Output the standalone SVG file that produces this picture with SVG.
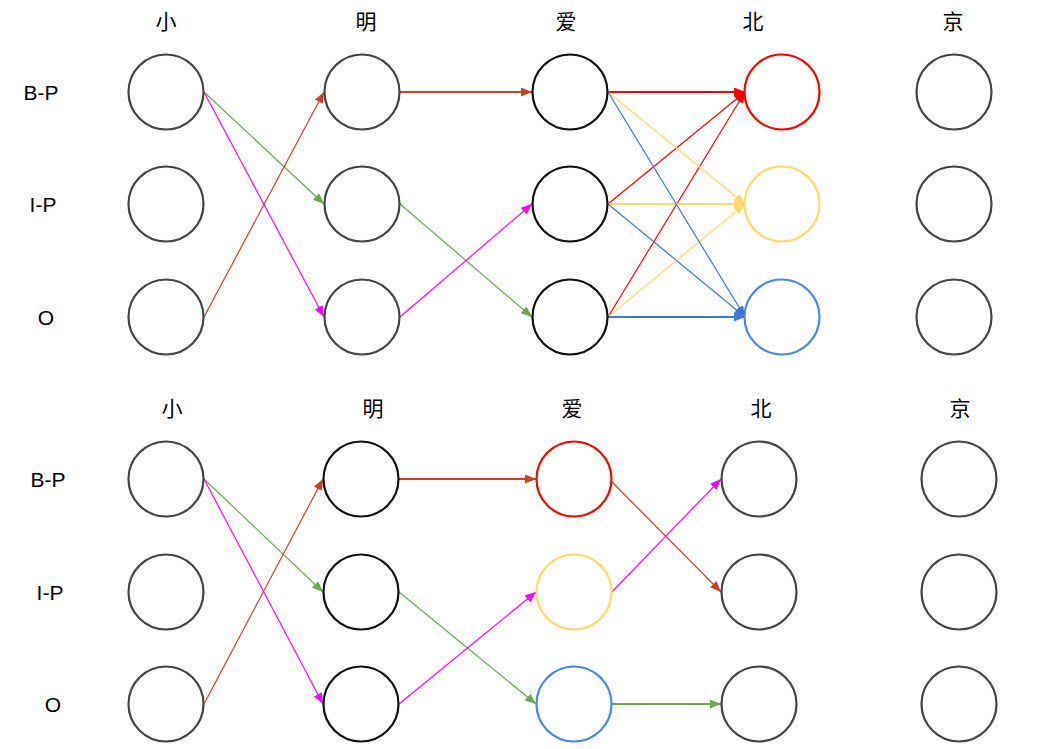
<svg xmlns="http://www.w3.org/2000/svg" width="1053" height="749" viewBox="0 0 1053 749">
<style>
.bg{fill:#ffffff}
.n{fill:#ffffff;stroke-width:2.2}
.g{stroke:#444444}
.k{stroke:#111111}
.r{stroke:#ff0000}
.y{stroke:#ffd966}
.b{stroke:#4a86e8}
.t{font-family:"Noto Sans CJK SC","Noto Sans",sans-serif;font-size:21px;fill:#000000;text-anchor:middle;dominant-baseline:central}
.l{font-family:"Liberation Sans",Arial,sans-serif;font-size:21px;fill:#000000;text-anchor:middle;dominant-baseline:central}
.e{fill:none;stroke-width:1.2}
.th{stroke-width:2}
</style>
<defs>
<marker id="aO" markerUnits="userSpaceOnUse" markerWidth="12" markerHeight="10" refX="11" refY="4.5" orient="auto"><path d="M0,0 L11,4.5 L0,9 z" fill="#cc4125"/></marker>
<marker id="aG" markerUnits="userSpaceOnUse" markerWidth="12" markerHeight="10" refX="11" refY="4.5" orient="auto"><path d="M0,0 L11,4.5 L0,9 z" fill="#6aa84f"/></marker>
<marker id="aM" markerUnits="userSpaceOnUse" markerWidth="12" markerHeight="10" refX="11" refY="4.5" orient="auto"><path d="M0,0 L11,4.5 L0,9 z" fill="#ff00ff"/></marker>
<marker id="aR" markerUnits="userSpaceOnUse" markerWidth="12" markerHeight="10" refX="11" refY="4.5" orient="auto"><path d="M0,0 L11,4.5 L0,9 z" fill="#ff0000"/></marker>
<marker id="aY" markerUnits="userSpaceOnUse" markerWidth="12" markerHeight="10" refX="11" refY="4.5" orient="auto"><path d="M0,0 L11,4.5 L0,9 z" fill="#ffd966"/></marker>
<marker id="aB" markerUnits="userSpaceOnUse" markerWidth="12" markerHeight="10" refX="11" refY="4.5" orient="auto"><path d="M0,0 L11,4.5 L0,9 z" fill="#3c78d8"/></marker>
</defs>
<rect class="bg" x="0" y="0" width="1053" height="749"/>

<g id="labels">
<text class="t" x="166" y="20">小</text>
<text class="t" x="366" y="20">明</text>
<text class="t" x="566" y="20">爱</text>
<text class="t" x="753" y="20">北</text>
<text class="t" x="953" y="20">京</text>
<text class="l" x="41" y="92">B-P</text>
<text class="l" x="43" y="204">I-P</text>
<text class="l" x="46" y="317">O</text>
<text class="t" x="172" y="407">小</text>
<text class="t" x="373" y="407">明</text>
<text class="t" x="572" y="407">爱</text>
<text class="t" x="761" y="407">北</text>
<text class="t" x="960" y="407">京</text>
<text class="l" x="48" y="479">B-P</text>
<text class="l" x="50" y="592">I-P</text>
<text class="l" x="53" y="704">O</text>
</g>

<g id="connectors">
<line class="e" stroke="#6aa84f" x1="204" y1="92" x2="324" y2="204" marker-end="url(#aG)"/>
<line class="e" stroke="#ff00ff" x1="204" y1="92" x2="324" y2="317" marker-end="url(#aM)"/>
<line class="e" stroke="#cc4125" x1="204" y1="317" x2="324" y2="92" marker-end="url(#aO)"/>
<line class="e th" stroke="#cc4125" x1="400" y1="92" x2="532" y2="92" marker-end="url(#aO)"/>
<line class="e" stroke="#6aa84f" x1="400" y1="204" x2="532" y2="317" marker-end="url(#aG)"/>
<line class="e" stroke="#ff00ff" x1="400" y1="317" x2="532" y2="204" marker-end="url(#aM)"/>
<line class="e th" stroke="#ff0000" x1="608" y1="92" x2="745" y2="92" marker-end="url(#aR)"/>
<line class="e" stroke="#ff0000" x1="608" y1="204" x2="745" y2="92" marker-end="url(#aR)"/>
<line class="e" stroke="#ff0000" x1="608" y1="317" x2="745" y2="92" marker-end="url(#aR)"/>
<line class="e" stroke="#ffd966" x1="608" y1="92" x2="745" y2="204" marker-end="url(#aY)"/>
<line class="e th" stroke="#ffd966" x1="608" y1="204" x2="745" y2="204" marker-end="url(#aY)"/>
<line class="e" stroke="#ffd966" x1="608" y1="317" x2="745" y2="204" marker-end="url(#aY)"/>
<line class="e" stroke="#3c78d8" x1="608" y1="92" x2="745" y2="317" marker-end="url(#aB)"/>
<line class="e" stroke="#3c78d8" x1="608" y1="204" x2="745" y2="317" marker-end="url(#aB)"/>
<line class="e th" stroke="#3c78d8" x1="608" y1="317" x2="745" y2="317" marker-end="url(#aB)"/>
<line class="e" stroke="#6aa84f" x1="204" y1="479" x2="323" y2="592" marker-end="url(#aG)"/>
<line class="e" stroke="#ff00ff" x1="204" y1="479" x2="323" y2="704" marker-end="url(#aM)"/>
<line class="e" stroke="#cc4125" x1="204" y1="704" x2="323" y2="479" marker-end="url(#aO)"/>
<line class="e th" stroke="#cc4125" x1="399" y1="479" x2="536" y2="479" marker-end="url(#aO)"/>
<line class="e" stroke="#6aa84f" x1="399" y1="592" x2="536" y2="704" marker-end="url(#aG)"/>
<line class="e" stroke="#ff00ff" x1="399" y1="704" x2="536" y2="592" marker-end="url(#aM)"/>
<line class="e" stroke="#cc4125" x1="612" y1="482" x2="721" y2="592" marker-end="url(#aO)"/>
<line class="e" stroke="#ff00ff" x1="612" y1="592" x2="721" y2="479" marker-end="url(#aM)"/>
<line class="e th" stroke="#6aa84f" x1="612" y1="704" x2="721" y2="704" marker-end="url(#aG)"/>
</g>

<g id="top-xiao-bp"><circle class="n g" cx="166" cy="92" r="37.5"/></g>
<g id="top-xiao-ip"><circle class="n g" cx="166" cy="204" r="37.5"/></g>
<g id="top-xiao-o"><circle class="n g" cx="166" cy="317" r="37.5"/></g>
<g id="top-ming-bp"><circle class="n g" cx="362" cy="92" r="37.5"/></g>
<g id="top-ming-ip"><circle class="n g" cx="362" cy="204" r="37.5"/></g>
<g id="top-ming-o"><circle class="n g" cx="362" cy="317" r="37.5"/></g>
<g id="top-ai-bp"><circle class="n k" cx="570" cy="92" r="37.5"/></g>
<g id="top-ai-ip"><circle class="n k" cx="570" cy="204" r="37.5"/></g>
<g id="top-ai-o"><circle class="n k" cx="570" cy="317" r="37.5"/></g>
<g id="top-bei-bp"><circle class="n r" cx="782" cy="92" r="37.5"/></g>
<g id="top-bei-ip"><circle class="n y" cx="782" cy="204" r="37.5"/></g>
<g id="top-bei-o"><circle class="n b" cx="782" cy="317" r="37.5"/></g>
<g id="top-jing-bp"><circle class="n g" cx="954" cy="92" r="37.5"/></g>
<g id="top-jing-ip"><circle class="n g" cx="954" cy="204" r="37.5"/></g>
<g id="top-jing-o"><circle class="n g" cx="954" cy="317" r="37.5"/></g>

<g id="bot-xiao-bp"><circle class="n g" cx="166" cy="479" r="37.5"/></g>
<g id="bot-xiao-ip"><circle class="n g" cx="166" cy="592" r="37.5"/></g>
<g id="bot-xiao-o"><circle class="n g" cx="166" cy="704" r="37.5"/></g>
<g id="bot-ming-bp"><circle class="n k" cx="361" cy="479" r="37.5"/></g>
<g id="bot-ming-ip"><circle class="n k" cx="361" cy="592" r="37.5"/></g>
<g id="bot-ming-o"><circle class="n k" cx="361" cy="704" r="37.5"/></g>
<g id="bot-ai-bp"><circle class="n r" cx="574" cy="479" r="37.5"/></g>
<g id="bot-ai-ip"><circle class="n y" cx="574" cy="592" r="37.5"/></g>
<g id="bot-ai-o"><circle class="n b" cx="574" cy="704" r="37.5"/></g>
<g id="bot-bei-bp"><circle class="n g" cx="759" cy="479" r="37.5"/></g>
<g id="bot-bei-ip"><circle class="n g" cx="759" cy="592" r="37.5"/></g>
<g id="bot-bei-o"><circle class="n g" cx="759" cy="704" r="37.5"/></g>
<g id="bot-jing-bp"><circle class="n g" cx="959" cy="479" r="37.5"/></g>
<g id="bot-jing-ip"><circle class="n g" cx="959" cy="592" r="37.5"/></g>
<g id="bot-jing-o"><circle class="n g" cx="959" cy="704" r="37.5"/></g>
</svg>
